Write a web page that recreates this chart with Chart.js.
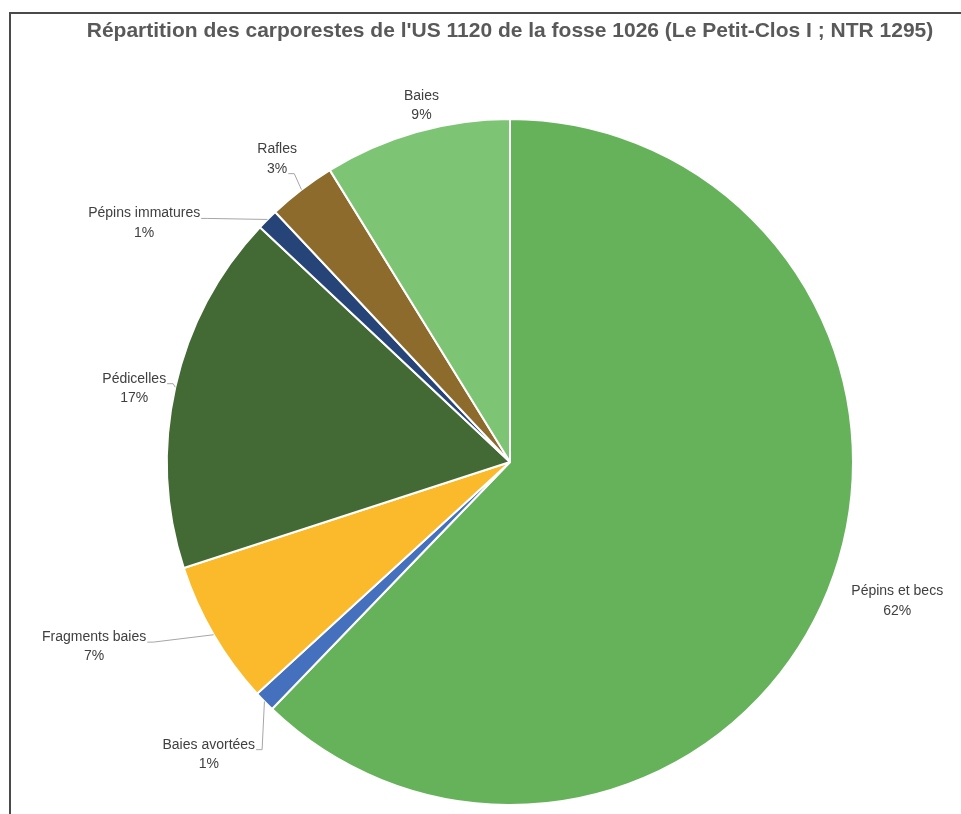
<!DOCTYPE html>
<html>
<head>
<meta charset="utf-8">
<script src="https://cdn.jsdelivr.net/npm/chart.js@4/dist/chart.umd.min.js"></script>
<style>
  html, body { margin: 0; padding: 0; background: #ffffff; overflow: hidden; }
  #wrap { position: relative; width: 961px; height: 814px; }
  #frame { position: absolute; left: 9px; top: 12px; width: 1000px; height: 900px;
           border-top: 2px solid #4a4a4a; border-left: 2px solid #4a4a4a; }
  canvas { position: absolute; left: 0; top: 0; }
</style>
</head>
<body>
<div id="wrap">
  <div id="frame"></div>
  <canvas id="c" width="961" height="814"></canvas>
</div>
<script>
// ---- data ----
const chartTitle = "Répartition des carporestes de l'US 1120 de la fosse 1026 (Le Petit-Clos I ; NTR 1295)";
const categories = ["Pépins et becs", "Baies avortées", "Fragments baies", "Pédicelles", "Pépins immatures", "Rafles", "Baies"];
const values = [62.2, 1.0, 6.8, 17.0, 1.0, 3.2, 8.8];
const sliceColors = ["#66B25B", "#4470BE", "#FBBA2B", "#436A35", "#274478", "#8D6B2C", "#7DC475"];

// ---- label layout (nudges from default outside position, leader flags) ----
const labelLayout = [
  { dx: 32, dy: -4, leader: false },
  { dx: -27, dy: 25, leader: true, joinLine: 0 },
  { dx: -85, dy: -8, leader: true, joinLine: 0 },
  { dx: -2, dy: 10, leader: true, joinLine: 0 },
  { dx: -95, dy: 32, leader: true, joinLine: 0 },
  { dx: 0, dy: 1, leader: true, joinLine: 1 },
  { dx: 16, dy: 12, leader: false }
];

const outLabels = {
  id: 'outLabels',
  afterDatasetsDraw(chart) {
    const ctx = chart.ctx;
    const meta = chart.getDatasetMeta(0);
    const total = values.reduce((a, b) => a + b, 0);
    const lh = 19.5;
    ctx.save();
    // title, centred over the pie
    const ca = chart.chartArea;
    ctx.font = 'bold 21px "Liberation Sans", Arial, sans-serif';
    ctx.fillStyle = '#595959';
    ctx.textAlign = 'center';
    ctx.textBaseline = 'middle';
    ctx.fillText(chartTitle, (ca.left + ca.right) / 2, 31);

    ctx.font = '14px "Liberation Sans", Arial, sans-serif';
    meta.data.forEach((arc, i) => {
      const p = arc.getProps(['x', 'y', 'startAngle', 'endAngle', 'outerRadius'], true);
      const mid = (p.startAngle + p.endAngle) / 2;
      const lay = labelLayout[i];
      const ax = p.x + Math.cos(mid) * (p.outerRadius + 40) + lay.dx;
      const ay = p.y + Math.sin(mid) * (p.outerRadius + 40) + lay.dy;
      const lines = [categories[i], Math.round(values[i] / total * 100) + '%'];
      ctx.fillStyle = '#404040';
      lines.forEach((t, k) => ctx.fillText(t, ax, ay + (k - 0.5) * lh));
      if (lay.leader) {
        const w = ctx.measureText(lines[lay.joinLine]).width;
        const jx = ax + w / 2 + 1;
        const jy = ay + (lay.joinLine - 0.5) * lh + 5;
        const px = p.x + Math.cos(mid) * p.outerRadius;
        const py = p.y + Math.sin(mid) * p.outerRadius;
        ctx.strokeStyle = '#A6A6A6';
        ctx.lineWidth = 1;
        ctx.beginPath();
        ctx.moveTo(jx, jy);
        ctx.lineTo(jx + 6, jy);
        ctx.lineTo(px, py);
        ctx.stroke();
      }
    });
    ctx.restore();
  }
};

new Chart(document.getElementById('c'), {
  type: 'pie',
  data: {
    labels: categories,
    datasets: [{
      data: values,
      backgroundColor: sliceColors,
      borderColor: '#ffffff',
      borderWidth: 2
    }]
  },
  options: {
    responsive: false,
    animation: false,
    events: [],
    layout: { padding: { left: 166, right: 107, top: 118, bottom: 8 } },
    plugins: {
      legend: { display: false },
      tooltip: { enabled: false },
      title: { display: false }
    }
  },
  plugins: [outLabels]
});
</script>
</body>
</html>
